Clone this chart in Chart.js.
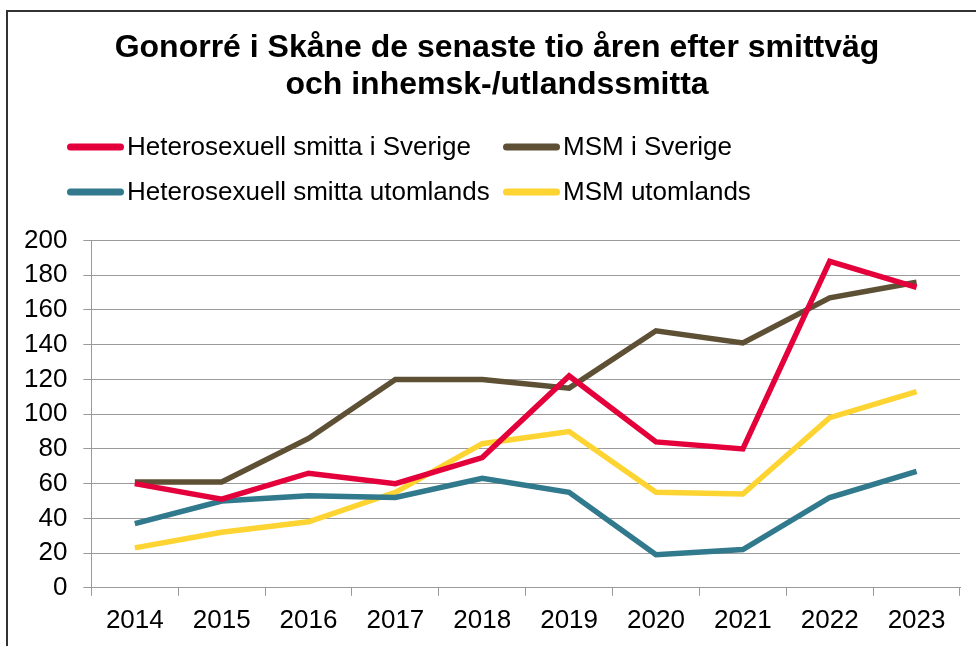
<!DOCTYPE html>
<html>
<head>
<meta charset="utf-8">
<script src="https://cdn.jsdelivr.net/npm/chart.js@4/dist/chart.umd.min.js"></script>
<style>
  html, body { margin: 0; padding: 0; background: #fff; }
  #wrap { position: relative; width: 976px; height: 646px; overflow: hidden; }
  #frame { position: absolute; left: 6px; top: 10px; width: 1000px; height: 700px;
           border-left: 2px solid #333; border-top: 2px solid #333; box-sizing: border-box; }
  canvas { position: absolute; left: 0; top: 0; }
</style>
</head>
<body>
<div id="wrap">
  <div id="frame"></div>
  <canvas id="c" width="976" height="646"></canvas>
</div>
<script>
const titleLines = ["Gonorré i Skåne de senaste tio åren efter smittväg", "och inhemsk-/utlandssmitta"];
const years = ["2014", "2015", "2016", "2017", "2018", "2019", "2020", "2021", "2022", "2023"];
const seriesNames = ["Heterosexuell smitta i Sverige", "MSM i Sverige", "Heterosexuell smitta utomlands", "MSM utomlands"];
const heteroSverige = [60, 51, 66, 60, 75, 122, 84, 80, 188, 173];
const msmSverige = [61, 61, 86, 120, 120, 115, 148, 141, 167, 176];
const heteroUtomlands = [37, 50, 53, 52, 63, 55, 19, 22, 52, 67];
const msmUtomlands = [23, 32, 38, 55, 83, 90, 55, 54, 98, 113];
const yMin = 0, yMax = 200, yStep = 20;

const colors = ["#E4003B", "#5E5035", "#31798C", "#FDD431"];
const FONT = "'Liberation Sans', Arial, sans-serif";

const titleShift = {
  id: 'titleShift',
  afterLayout(chart) {
    if (chart.titleBlock) { chart.titleBlock.left += 26; }
  }
};

const legendPlugin = {
  id: 'gridLegend',
  afterDraw(chart) {
    const ctx = chart.ctx;
    const pos = [
      {x: 67, y: 147}, {x: 503, y: 147},
      {x: 67, y: 192}, {x: 503, y: 192}
    ];
    ctx.save();
    chart.data.datasets.forEach((ds, i) => {
      const p = pos[i];
      ctx.strokeStyle = ds.borderColor;
      ctx.lineWidth = 7;
      ctx.lineCap = 'round';
      ctx.beginPath();
      ctx.moveTo(p.x + 3.5, p.y);
      ctx.lineTo(p.x + 53.5, p.y);
      ctx.stroke();
      ctx.fillStyle = '#000';
      ctx.font = "26px " + FONT;
      ctx.textBaseline = 'middle';
      ctx.textAlign = 'left';
      ctx.fillText(ds.label, p.x + 60, p.y + 1);
    });
    ctx.restore();
  }
};

const mk = (label, data, color) => ({
  label, data, borderColor: color, backgroundColor: color,
  borderWidth: 5.5, pointRadius: 0, pointHoverRadius: 0, tension: 0, fill: false
});

new Chart(document.getElementById('c'), {
  type: 'line',
  data: {
    labels: years,
    datasets: [
      mk(seriesNames[0], heteroSverige, colors[0]),
      mk(seriesNames[1], msmSverige, colors[1]),
      mk(seriesNames[2], heteroUtomlands, colors[2]),
      mk(seriesNames[3], msmUtomlands, colors[3])
    ]
  },
  options: {
    responsive: false,
    animation: false,
    layout: { padding: { left: 8, right: 16, top: 0, bottom: 1 } },
    plugins: {
      legend: { display: false },
      tooltip: { enabled: false },
      title: {
        display: true,
        text: titleLines,
        color: '#000',
        font: { family: FONT, size: 32, weight: 'bold', lineHeight: 1.18 },
        padding: { top: 29, bottom: 136 }
      }
    },
    scales: {
      x: {
        offset: true,
        grid: { display: true, offset: true, drawOnChartArea: false, drawTicks: true, tickLength: 8, color: '#9a9a9a', lineWidth: 1 },
        border: { display: true, color: '#9a9a9a', width: 1 },
        ticks: { color: '#000', font: { family: FONT, size: 26 }, padding: 9, maxRotation: 0, autoSkip: false }
      },
      y: {
        min: yMin, max: yMax,
        grid: { display: true, drawTicks: true, tickLength: 8, color: '#9a9a9a', lineWidth: 1 },
        border: { display: true, color: '#9a9a9a', width: 1 },
        ticks: { stepSize: yStep, color: '#000', font: { family: FONT, size: 26 }, padding: 16 }
      }
    }
  },
  plugins: [titleShift, legendPlugin]
});
</script>
</body>
</html>
